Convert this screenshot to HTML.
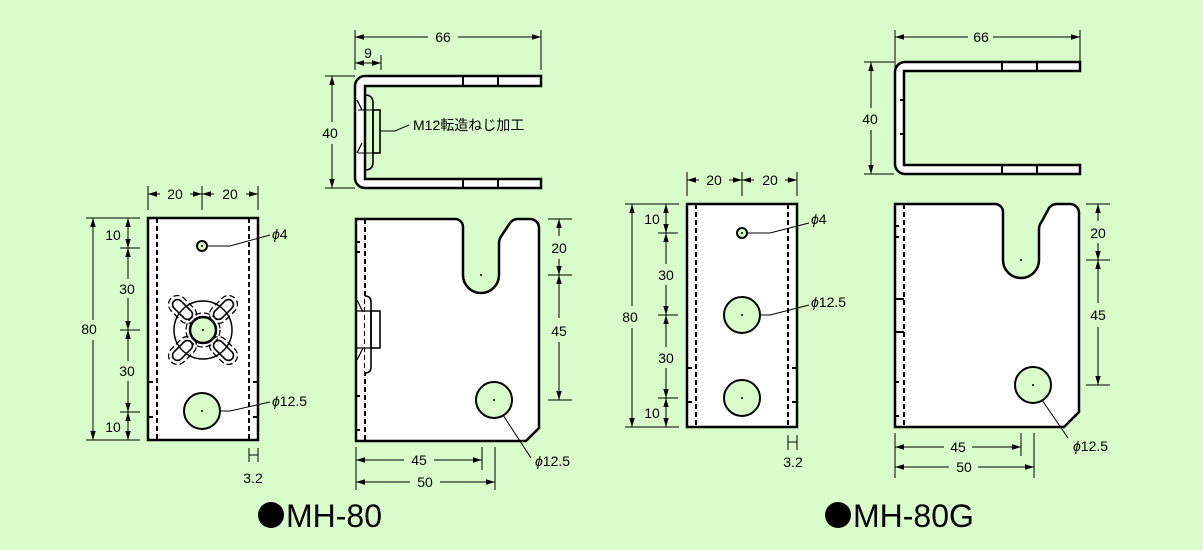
<!DOCTYPE html>
<html><head><meta charset="utf-8"><style>
html,body{margin:0;padding:0;background:#d9fdca;}
svg{display:block;}
text{font-family:"Liberation Sans","Noto Sans CJK JP",sans-serif;fill:#000;}
</style></head><body>
<svg width="1203" height="550" viewBox="0 0 1203 550" xmlns="http://www.w3.org/2000/svg">
<defs>
<marker id="a" viewBox="0 0 10 10" refX="10" refY="5" markerWidth="9" markerHeight="9" orient="auto-start-reverse" markerUnits="userSpaceOnUse"><path d="M0,2 L10,5 L0,8 z" fill="#000"/></marker>
<g id="slot"><rect x="-5" y="17" width="10" height="24" rx="5" fill="none" stroke="#000" stroke-width="1.6"/><rect x="-9" y="13" width="18" height="32" rx="9" fill="none" stroke="#000" stroke-width="1.3" stroke-dasharray="6,3"/></g>
</defs>
<rect width="1203" height="550" fill="#d9fdca"/>
<g stroke="#000" fill="none" stroke-width="1">

<!-- ===== MH-80 front ===== -->
<rect x="148" y="218" width="110" height="222" fill="#fff" stroke-width="2.5"/>
<line x1="157" y1="218" x2="157" y2="440" stroke-width="2" stroke-dasharray="5,3"/>
<line x1="249" y1="218" x2="249" y2="440" stroke-width="2" stroke-dasharray="5,3"/>
<path d="M148 382h5M148 417h5M258 382h-5M258 417h-5" stroke-width="2"/>
<circle cx="202" cy="246" r="5" fill="#d9fdca" stroke-width="2"/>
<circle cx="203" cy="330" r="29" stroke-width="1.5"/>
<g transform="translate(203,330)">
<use href="#slot" transform="rotate(45)"/><use href="#slot" transform="rotate(135)"/><use href="#slot" transform="rotate(225)"/><use href="#slot" transform="rotate(315)"/>
</g>
<circle cx="203" cy="330" r="17" stroke-width="1.3" stroke-dasharray="6,3"/>
<circle cx="203" cy="330" r="13" fill="#d9fdca" stroke-width="2.5"/>
<circle cx="202" cy="411" r="18" fill="#d9fdca" stroke-width="2"/>
<!-- dims -->
<path d="M148 186v24M202 186v24M258 186v24"/>
<line x1="148" y1="194" x2="160" y2="194" marker-start="url(#a)"/><line x1="190" y1="194" x2="202" y2="194" marker-end="url(#a)"/>
<line x1="202" y1="194" x2="214" y2="194" marker-start="url(#a)"/><line x1="246" y1="194" x2="258" y2="194" marker-end="url(#a)"/>
<path d="M86 218h54M86 440h54M120 248h20M120 330h20M120 412h20"/>
<line x1="93" y1="218" x2="93" y2="320" marker-start="url(#a)"/><line x1="93" y1="340" x2="93" y2="440" marker-end="url(#a)"/>
<line x1="128" y1="218" x2="128" y2="248" marker-start="url(#a)" marker-end="url(#a)"/>
<line x1="128" y1="248" x2="128" y2="279" marker-start="url(#a)"/><line x1="128" y1="298" x2="128" y2="330" marker-end="url(#a)"/>
<line x1="128" y1="330" x2="128" y2="361" marker-start="url(#a)"/><line x1="128" y1="381" x2="128" y2="412" marker-end="url(#a)"/>
<line x1="128" y1="412" x2="128" y2="440" marker-start="url(#a)" marker-end="url(#a)"/>
<path d="M249 448v14M258 448v14M249 455h9"/>
<path d="M208 246h22l40-11M220 411h10l40-9"/>

<!-- ===== MH-80 top ===== -->
<path d="M541 76H365a10 10 0 0 0-10 10v92a10 10 0 0 0 10 10h176v-9H365V86h176z" fill="#fff" stroke-width="2.5"/>
<path d="M463 76v10M498 76v10M463 179v9M498 179v9" stroke-width="2"/>
<path d="M365 95q8 0 8 8v59q0 8-8 8" stroke-width="1.6"/>
<rect x="373" y="110" width="7" height="43" stroke-width="1.6"/>
<path d="M358 110h15M358 153h15" stroke-width="1"/>
<path d="M357 100l5 10M357 153l5-10" stroke-width="1.3"/>
<path d="M355 30v40M381 55v15M541 30v40"/>
<line x1="355" y1="37" x2="428" y2="37" marker-start="url(#a)"/><line x1="458" y1="37" x2="541" y2="37" marker-end="url(#a)"/>
<line x1="355" y1="63" x2="381" y2="63" marker-start="url(#a)" marker-end="url(#a)"/>
<path d="M325 76h30M325 188h30"/>
<line x1="332" y1="76" x2="332" y2="122" marker-start="url(#a)"/><line x1="332" y1="144" x2="332" y2="188" marker-end="url(#a)"/>
<path d="M380 131h15l14-6"/>

<!-- ===== MH-80 side ===== -->
<path d="M356 219H455a8 8 0 0 1 8 8V275a18 18 0 0 0 36 0V243q0-4 3-8L510 223q3-4 8-4H530a9 9 0 0 1 9 9V428L526 441H356z" fill="#fff" stroke-width="2.5"/>
<line x1="365" y1="219" x2="365" y2="441" stroke-width="2" stroke-dasharray="5,3"/>
<path d="M356 242h4M356 252h4M356 396h4M356 430h4" stroke-width="2"/>
<path d="M365 296q6 0 6 6v65q0 6-6 6" fill="#fff" stroke-width="1.6"/>
<rect x="371" y="311" width="9" height="37" stroke-width="1.6"/>
<path d="M356 311h15M356 348h15M357 300l6 12M357 360l6-12" stroke-width="1.2"/>
<circle cx="494" cy="400" r="18" fill="#d9fdca" stroke-width="2"/>
<path d="M548 219h24M548 275h24M548 400h24"/>
<line x1="559" y1="219" x2="559" y2="236" marker-start="url(#a)"/><line x1="559" y1="259" x2="559" y2="275" marker-end="url(#a)"/>
<line x1="559" y1="275" x2="559" y2="318" marker-start="url(#a)"/><line x1="559" y1="342" x2="559" y2="400" marker-end="url(#a)"/>
<path d="M356 447v43M482 447v23M495 447v43"/>
<line x1="356" y1="460" x2="404" y2="460" marker-start="url(#a)"/><line x1="434" y1="460" x2="482" y2="460" marker-end="url(#a)"/>
<line x1="356" y1="482" x2="410" y2="482" marker-start="url(#a)"/><line x1="440" y1="482" x2="495" y2="482" marker-end="url(#a)"/>
<path d="M503 415l28 43"/>

<!-- ===== MH-80G front ===== -->
<rect x="687" y="204" width="110" height="223" fill="#fff" stroke-width="2.5"/>
<line x1="696" y1="204" x2="696" y2="427" stroke-width="2" stroke-dasharray="5,3"/>
<line x1="788" y1="204" x2="788" y2="427" stroke-width="2" stroke-dasharray="5,3"/>
<path d="M687 368h5M687 402h5M797 368h-5M797 402h-5" stroke-width="2"/>
<circle cx="742" cy="233" r="5" fill="#d9fdca" stroke-width="2"/>
<circle cx="742" cy="315" r="18" fill="#d9fdca" stroke-width="2"/>
<circle cx="742" cy="398" r="18" fill="#d9fdca" stroke-width="2"/>
<path d="M687 172v24M742 172v24M797 172v24"/>
<line x1="687" y1="180" x2="699" y2="180" marker-start="url(#a)"/><line x1="729" y1="180" x2="742" y2="180" marker-end="url(#a)"/>
<line x1="742" y1="180" x2="754" y2="180" marker-start="url(#a)"/><line x1="785" y1="180" x2="797" y2="180" marker-end="url(#a)"/>
<path d="M625 204h54M625 427h54M658 233h20M658 315h20M658 398h20"/>
<line x1="632" y1="204" x2="632" y2="306" marker-start="url(#a)"/><line x1="632" y1="328" x2="632" y2="427" marker-end="url(#a)"/>
<line x1="666" y1="204" x2="666" y2="233" marker-start="url(#a)" marker-end="url(#a)"/>
<line x1="666" y1="233" x2="666" y2="264" marker-start="url(#a)"/><line x1="666" y1="285" x2="666" y2="315" marker-end="url(#a)"/>
<line x1="666" y1="315" x2="666" y2="347" marker-start="url(#a)"/><line x1="666" y1="368" x2="666" y2="398" marker-end="url(#a)"/>
<line x1="666" y1="398" x2="666" y2="427" marker-start="url(#a)" marker-end="url(#a)"/>
<path d="M788 435v15M797 435v15M788 442h9"/>
<path d="M748 233h22l39-10M760 315h10l39-10"/>

<!-- ===== MH-80G top ===== -->
<path d="M1080 62H905a10 10 0 0 0-10 10v92a10 10 0 0 0 10 10h175v-9H904V71h176z" fill="#fff" stroke-width="2.5"/>
<path d="M1002 62v9M1037 62v9M1002 165v9M1037 165v9M904 100h-4M904 134h-4" stroke-width="2"/>
<path d="M895 30v40M1080 30v40"/>
<line x1="895" y1="37" x2="968" y2="37" marker-start="url(#a)"/><line x1="993" y1="37" x2="1080" y2="37" marker-end="url(#a)"/>
<path d="M864 62h30M864 174h30"/>
<line x1="871" y1="62" x2="871" y2="108" marker-start="url(#a)"/><line x1="871" y1="130" x2="871" y2="174" marker-end="url(#a)"/>

<!-- ===== MH-80G side ===== -->
<path d="M895 204H995a8 8 0 0 1 8 8V260a18 18 0 0 0 36 0V229q0-4 3-8L1049 208q3-4 8-4H1070a9 9 0 0 1 9 9V412L1064 427H895z" fill="#fff" stroke-width="2.5"/>
<line x1="904" y1="204" x2="904" y2="427" stroke-width="2" stroke-dasharray="5,3"/>
<path d="M895 226h4M895 237h4M895 299h9M895 332h9M895 382h4M895 416h4" stroke-width="2"/>
<circle cx="1033" cy="385" r="18" fill="#d9fdca" stroke-width="2"/>
<path d="M1086 204h24M1086 260h24M1086 385h24"/>
<line x1="1098" y1="204" x2="1098" y2="221" marker-start="url(#a)"/><line x1="1098" y1="243" x2="1098" y2="260" marker-end="url(#a)"/>
<line x1="1098" y1="260" x2="1098" y2="303" marker-start="url(#a)"/><line x1="1098" y1="327" x2="1098" y2="385" marker-end="url(#a)"/>
<path d="M895 433v45M1021 433v23M1034 433v45"/>
<line x1="895" y1="447" x2="944" y2="447" marker-start="url(#a)"/><line x1="972" y1="447" x2="1021" y2="447" marker-end="url(#a)"/>
<line x1="895" y1="467" x2="949" y2="467" marker-start="url(#a)"/><line x1="978" y1="467" x2="1034" y2="467" marker-end="url(#a)"/>
<path d="M1042 400l26 38"/>
</g>
<!-- center dots -->
<g fill="#000"><circle cx="202" cy="246" r="1"/><circle cx="203" cy="330" r="1"/><circle cx="202" cy="411" r="1"/><circle cx="481" cy="275" r="1"/><circle cx="494" cy="400" r="1"/><circle cx="742" cy="233" r="1"/><circle cx="742" cy="315" r="1"/><circle cx="742" cy="398" r="1"/><circle cx="1021" cy="260" r="1"/><circle cx="1033" cy="385" r="1"/></g>

<g font-size="14" text-anchor="middle">
<text x="175" y="199">20</text><text x="230" y="199">20</text>
<text x="89" y="334">80</text>
<text x="113" y="240">10</text><text x="127" y="294">30</text><text x="127" y="376">30</text><text x="113" y="432">10</text>
<text x="253" y="483">3.2</text>
<text x="443" y="42">66</text><text x="368" y="58">9</text><text x="330" y="138">40</text>
<text x="559" y="253">20</text><text x="559" y="336">45</text>
<text x="419" y="465">45</text><text x="425" y="487">50</text>
<text x="714" y="185">20</text><text x="770" y="185">20</text>
<text x="630" y="322">80</text>
<text x="652" y="224">10</text><text x="666" y="280">30</text><text x="666" y="363">30</text><text x="652" y="418">10</text>
<text x="793" y="467">3.2</text>
<text x="981" y="42">66</text><text x="870" y="124">40</text>
<text x="1098" y="238">20</text><text x="1098" y="320">45</text>
<text x="958" y="452">45</text><text x="964" y="472">50</text>
</g>
<g font-size="14">
<text x="272" y="239"><tspan font-style="italic">ϕ</tspan>4</text>
<text x="272" y="406"><tspan font-style="italic">ϕ</tspan>12.5</text>
<text x="413" y="130">M12転造ねじ加工</text>
<text x="535" y="466"><tspan font-style="italic">ϕ</tspan>12.5</text>
<text x="811" y="224"><tspan font-style="italic">ϕ</tspan>4</text>
<text x="811" y="307"><tspan font-style="italic">ϕ</tspan>12.5</text>
<text x="1073" y="451"><tspan font-style="italic">ϕ</tspan>12.5</text>
</g>
<circle cx="271" cy="515" r="13" fill="#000"/>
<circle cx="838" cy="515" r="13" fill="#000"/>
<g font-size="32">
<text x="286" y="527">MH-80</text>
<text x="853" y="527">MH-80G</text>
</g>
</svg>
</body></html>
